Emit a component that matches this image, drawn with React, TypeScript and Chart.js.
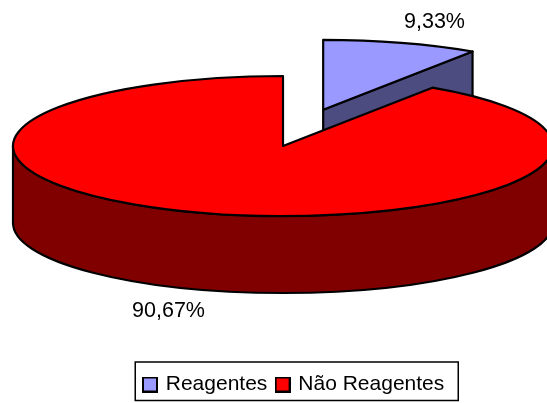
import React, { useEffect, useRef } from "react";
import { Chart, registerables } from "chart.js";

Chart.register(...registerables);

const categories = ["Reagentes", "Não Reagentes"];
const shares = [9.33, 90.67];
const topColors = ["#9999FF", "#FF0000"];
const wallColors = ["#4C4C80", "#800000"];
const labelAnchors = [
  { x: 434.5, y: 22 },
  { x: 168.5, y: 311 },
];

const FONT = '"Liberation Sans", Arial, sans-serif';
const CX = 283;
const CY = 146;
const RX = 270;
const RY = 70;
const DEPTH = 77;
const explodeX = [0.515, 0];
const explodeY = [0.54, 0];

function swatch(color: string) {
  const c = document.createElement("canvas");
  c.width = 16;
  c.height = 16;
  const g = c.getContext("2d")!;
  g.fillStyle = color;
  g.fillRect(1, 1, 14, 14);
  g.strokeStyle = "#000";
  g.lineWidth = 2;
  g.strokeRect(1, 1, 14, 14);
  return c;
}

const pie3d = {
  id: "pie3d",
  beforeDatasetsDraw(chart: any) {
    const ctx = chart.ctx as CanvasRenderingContext2D;
    const arcs = chart.getDatasetMeta(0).data as any[];
    const geo = arcs.map((el, i) => {
      const mid = (el.startAngle + el.endAngle) / 2;
      return {
        el,
        i,
        cx: CX + Math.cos(mid) * explodeX[i] * RX,
        cy: CY + Math.sin(mid) * explodeY[i] * RY,
      };
    });
    ctx.save();
    ctx.lineJoin = "round";
    ctx.strokeStyle = "#000";
    ctx.lineWidth = 2.2;

    // side walls and cut faces
    for (const { el, i, cx, cy } of geo) {
      ctx.fillStyle = wallColors[i];
      const a = el.startAngle;
      const b = el.endAngle;
      const faces: number[] = [];
      if (Math.cos(b) > 1e-6) faces.push(b);
      if (Math.cos(a) < -1e-6) faces.push(a);
      for (const f of faces) {
        const px = cx + Math.cos(f) * RX;
        const py = cy + Math.sin(f) * RY;
        ctx.beginPath();
        ctx.moveTo(cx, cy);
        ctx.lineTo(px, py);
        ctx.lineTo(px, py + DEPTH);
        ctx.lineTo(cx, cy + DEPTH);
        ctx.closePath();
        ctx.fill();
        ctx.stroke();
      }
      const ws = Math.max(a, 0);
      const we = Math.min(b, Math.PI);
      if (we > ws) {
        ctx.beginPath();
        ctx.ellipse(cx, cy, RX, RY, 0, ws, we);
        ctx.ellipse(cx, cy + DEPTH, RX, RY, 0, we, ws, true);
        ctx.closePath();
        ctx.fill();
        ctx.stroke();
      }
    }

    // top faces: the library's own arc elements, squashed onto the ellipse
    for (const { el, cx, cy } of geo) {
      const sx = RX / el.outerRadius;
      const sy = RY / el.outerRadius;
      ctx.save();
      ctx.setTransform(sx, 0, 0, sy, cx - el.x * sx, cy - el.y * sy);
      el.draw(ctx);
      ctx.restore();
      ctx.beginPath();
      ctx.moveTo(cx, cy);
      ctx.ellipse(cx, cy, RX, RY, 0, el.startAngle, el.endAngle);
      ctx.closePath();
      ctx.stroke();
    }

    // value labels
    ctx.fillStyle = "#000";
    ctx.font = `21.5px ${FONT}`;
    ctx.textAlign = "center";
    ctx.textBaseline = "middle";
    shares.forEach((v, i) => {
      ctx.fillText(`${v.toFixed(2).replace(".", ",")}%`, labelAnchors[i].x, labelAnchors[i].y);
    });
    ctx.restore();
    return false;
  },
  afterDraw(chart: any) {
    const boxes = chart.legend?.legendHitBoxes as any[];
    if (!boxes?.length) return;
    const ctx = chart.ctx as CanvasRenderingContext2D;
    const last = boxes[boxes.length - 1];
    const l = boxes[0].left - 9.5;
    const r = last.left + last.width + 14;
    const c = boxes[0].top + boxes[0].height / 2;
    ctx.save();
    ctx.strokeStyle = "#000";
    ctx.lineWidth = 1.5;
    ctx.strokeRect(l, c - 22.5, r - l, 38.5);
    ctx.restore();
  },
};

export default function App() {
  const ref = useRef<HTMLCanvasElement>(null);
  useEffect(() => {
    const chart = new Chart(ref.current!, {
      type: "pie",
      data: {
        labels: categories,
        datasets: [{ data: shares, backgroundColor: topColors, borderWidth: 0 }],
      },
      options: {
        animation: false,
        responsive: false,
        layout: { padding: { left: 42, right: 0, top: 0, bottom: -2 } },
        plugins: {
          tooltip: { enabled: false },
          legend: {
            position: "bottom",
            labels: {
              font: { family: FONT, size: 21 },
              color: "#000",
              usePointStyle: true,
              pointStyleWidth: 10.5,
              boxHeight: 14,
              padding: 10,
              generateLabels() {
                return categories.map((text, i) => ({
                  text,
                  fillStyle: topColors[i],
                  strokeStyle: "#000",
                  lineWidth: 2,
                  hidden: false,
                  index: i,
                  pointStyle: swatch(topColors[i]),
                }));
              },
            },
          },
        },
      },
      plugins: [pie3d],
    } as any);
    return () => chart.destroy();
  }, []);
  return (
    <div style={{ position: "fixed", left: 0, top: 0, width: 547, height: 403, background: "#fff" }}>
      <canvas ref={ref} width={547} height={403} style={{ display: "block" }} />
    </div>
  );
}
